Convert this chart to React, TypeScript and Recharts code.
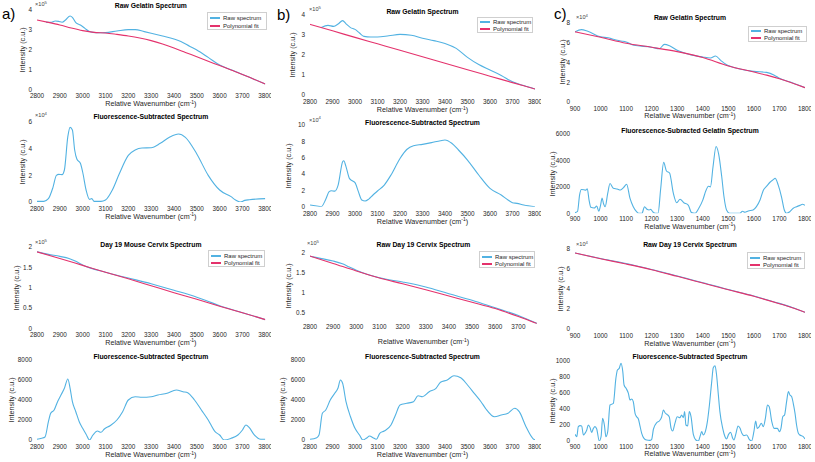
import React from 'react';
import { LineChart, Line, XAxis, YAxis } from 'recharts';

const FONT = '"Liberation Sans", Arial, Helvetica, sans-serif';
const BLUE = '#52b2e2';
const PINK = '#e4326c';
const INK = '#1e1e1e';

// ---------- a) ----------
const a1RawX = [2840,2860,2880,2895,2910,2925,2945,2955,2970,2990,3010,3030,3045,3070,3100,3150,3200,3230,3270,3300,3350,3400,3430,3470,3500,3550,3600,3650,3700,3750,3800];
const a1RawY = [3.38,3.38,3.45,3.43,3.39,3.5,3.7,3.63,3.37,3.25,3.08,2.92,2.88,2.86,2.87,2.95,3.02,3.02,2.92,2.84,2.7,2.55,2.43,2.18,2.0,1.63,1.25,1.01,0.78,0.54,0.3];
const a1FitX = [2800,2850,2900,2950,3000,3050,3100,3150,3200,3250,3300,3350,3400,3450,3500,3550,3600,3650,3700,3750,3800];
const a1FitY = [3.5,3.38,3.25,3.1,2.97,2.88,2.85,2.78,2.7,2.6,2.47,2.3,2.1,1.88,1.66,1.44,1.22,1.0,0.78,0.54,0.3];

const a2X = [2800,2830,2850,2870,2885,2895,2910,2920,2935,2945,2955,2965,2975,2990,3000,3015,3030,3040,3050,3080,3100,3130,3160,3200,3230,3260,3300,3340,3380,3420,3450,3500,3550,3600,3650,3670,3690,3710,3730,3800];
const a2Y = [0.05,0.05,0.25,1.1,2.0,2.07,2.05,2.4,4.9,5.6,5.4,3.9,3.2,2.9,2.25,0.9,0.2,0.25,0.05,0.05,0.15,0.9,2.1,3.5,3.9,4.05,4.07,4.4,4.85,5.1,4.85,3.6,2.0,0.9,0.4,0.15,0.0,0.12,0.17,0.25];

const a3RawX = [2800,2850,2900,2940,2970,3000,3100,3200,3300,3400,3500,3540,3600,3700,3800];
const a3RawY = [1.88,1.82,1.77,1.72,1.65,1.56,1.38,1.24,1.1,0.94,0.77,0.69,0.56,0.39,0.22];
const a3FitX = [2800,2900,3000,3100,3200,3300,3400,3500,3600,3700,3800];
const a3FitY = [1.88,1.72,1.55,1.38,1.22,1.05,0.88,0.72,0.55,0.39,0.22];

const a4X = [2800,2820,2835,2850,2860,2875,2890,2905,2920,2935,2945,2955,2970,2985,3000,3015,3030,3045,3065,3080,3095,3120,3150,3175,3200,3230,3260,3300,3330,3370,3410,3440,3460,3490,3520,3550,3580,3600,3620,3650,3680,3700,3715,3730,3750,3780,3800];
const a4Y = [70,170,300,1830,2670,3000,3830,4500,5170,6100,5170,3830,2830,1830,1170,570,0,500,900,770,1100,1430,2000,2830,4000,4330,4270,4330,4500,4670,5000,4830,4730,4000,3000,2000,830,500,0,170,500,1000,1500,1230,570,70,70];

// ---------- b) ----------
const b1RawX = [2850,2880,2905,2925,2945,2960,2980,3000,3020,3040,3070,3100,3150,3200,3250,3300,3350,3400,3450,3500,3550,3600,3650,3700,3750,3800];
const b1RawY = [3.38,3.48,3.43,3.55,3.72,3.56,3.37,3.28,3.1,2.93,2.9,2.9,2.96,3.03,2.99,2.84,2.72,2.58,2.33,1.88,1.52,1.25,0.98,0.66,0.47,0.3];
const b1FitX = [2800,2900,3000,3100,3200,3300,3400,3500,3600,3700,3800];
const b1FitY = [3.53,3.21,2.88,2.56,2.24,1.91,1.59,1.26,0.94,0.62,0.3];

const b2X = [2800,2830,2850,2870,2885,2895,2910,2925,2945,2950,2960,2975,2990,3000,3015,3030,3045,3060,3080,3100,3130,3160,3200,3230,3260,3300,3340,3380,3400,3430,3460,3500,3550,3600,3650,3680,3700,3720,3750,3800];
const b2Y = [0.2,0.08,0,0.9,1.84,1.96,1.9,2.65,5.5,5.63,4.9,3.47,3.14,2.94,1.84,0.82,0.7,0.9,1.43,1.92,2.65,3.88,5.9,7.0,7.47,7.63,7.84,8.08,8.16,7.76,6.94,5.71,3.88,2.24,1.43,0.82,0.49,0.41,0.2,0];

const b3RawX = [2800,2850,2900,2940,2970,3000,3100,3200,3300,3400,3500,3600,3700,3780];
const b3RawY = [1.92,1.86,1.8,1.73,1.65,1.57,1.38,1.275,1.15,0.98,0.82,0.63,0.44,0.24];
const b3FitX = [2800,2900,3000,3100,3200,3300,3400,3500,3600,3700,3780];
const b3FitY = [1.925,1.74,1.55,1.375,1.23,1.08,0.925,0.77,0.61,0.41,0.235];

const b4X = [2800,2830,2840,2855,2870,2890,2910,2925,2935,2945,2960,2980,3000,3020,3035,3050,3065,3080,3095,3110,3130,3160,3180,3200,3230,3260,3280,3300,3330,3360,3380,3410,3440,3470,3500,3530,3560,3580,3620,3650,3680,3710,3730,3760,3790,3800];
const b4Y = [70,230,500,2670,3000,4000,4670,5230,6000,5670,3830,2330,1170,500,0,170,400,230,70,670,900,1500,2500,3500,3670,3830,4430,4330,4830,5170,5770,6000,6430,6230,5500,4670,3830,3170,2330,2500,2670,3170,2830,1330,170,0];

// ---------- c) ----------
const c1RawX = [900,925,950,1000,1030,1050,1080,1100,1130,1200,1230,1250,1270,1300,1350,1400,1430,1450,1470,1490,1500,1600,1650,1680,1700,1750,1800];
const c1RawY = [7.1,7.33,7.16,6.6,6.5,6.35,6.18,6.08,5.74,5.55,5.4,5.84,5.7,5.24,4.8,4.56,4.46,4.66,4.22,3.82,3.7,3.1,3.0,2.72,2.4,1.95,1.45];
const c1FitX = [900,1000,1100,1200,1300,1400,1500,1600,1650,1700,1800];
const c1FitY = [7.1,6.55,5.95,5.54,5.1,4.5,3.65,3.04,2.72,2.36,1.45];

const c2X = [900,910,918,925,935,942,948,955,962,975,985,993,1000,1006,1012,1018,1028,1037,1050,1065,1078,1090,1102,1115,1128,1140,1150,1162,1172,1182,1190,1196,1205,1215,1225,1235,1247,1258,1270,1285,1298,1311,1326,1343,1356,1370,1385,1400,1412,1422,1430,1440,1452,1462,1474,1483,1493,1505,1545,1555,1565,1578,1597,1610,1624,1637,1650,1663,1676,1683,1695,1708,1719,1728,1741,1754,1767,1780,1790,1800];
const c2Y = [50,150,1400,1800,1780,1750,1850,1000,450,400,550,150,600,1150,700,500,1500,2250,1900,1840,1760,1950,2200,1150,500,150,0,0,500,300,250,300,100,0,0,1800,3850,3200,3050,1500,800,1060,800,620,50,0,400,1000,1700,2050,2000,3500,5050,4500,2800,1250,250,0,0,150,80,180,250,500,1000,1750,2050,2350,2550,2650,2150,1250,250,0,130,380,500,600,680,600];

const c3RawX = [900,1000,1100,1200,1300,1400,1450,1500,1600,1650,1700,1750,1800];
const c3RawY = [7.6,7.05,6.55,5.95,5.3,4.62,4.3,3.95,3.3,2.93,2.56,2.15,1.67];
const c3FitX = [900,1000,1100,1200,1300,1400,1500,1600,1700,1750,1800];
const c3FitY = [7.6,7.03,6.5,5.93,5.27,4.6,3.93,3.27,2.53,2.13,1.67];

const c4X = [900,907,913,920,926,933,939,946,952,959,965,972,978,985,995,1002,1008,1015,1021,1028,1037,1050,1060,1066,1073,1080,1087,1092,1100,1109,1115,1122,1128,1135,1141,1148,1154,1161,1170,1180,1193,1200,1207,1220,1230,1239,1246,1253,1261,1269,1276,1282,1291,1300,1311,1317,1324,1329,1334,1341,1347,1354,1363,1373,1383,1389,1396,1402,1409,1418,1426,1435,1441,1448,1454,1461,1467,1478,1487,1493,1501,1509,1517,1522,1530,1538,1546,1553,1561,1572,1582,1591,1600,1607,1613,1621,1629,1637,1645,1653,1660,1670,1679,1692,1700,1706,1713,1720,1728,1735,1741,1748,1754,1761,1767,1774,1780,1793,1800];
const c4Y = [83,54,180,192,188,75,96,138,200,167,108,158,180,150,0,54,283,200,54,117,450,471,783,888,908,971,867,700,658,596,513,525,492,346,304,275,192,96,33,13,8,21,150,230,250,300,388,350,330,300,158,125,221,304,292,325,292,367,200,188,367,304,83,13,0,54,117,75,108,242,450,742,917,940,825,575,367,158,54,25,83,110,33,13,96,188,158,96,67,75,21,0,117,250,158,180,221,180,283,450,429,242,158,158,117,158,304,325,492,617,575,554,471,346,200,96,75,54,25];

// ticks
const xTicksHigh = [2800,2900,3000,3100,3200,3300,3400,3500,3600,3700,3800];
const xTicksHighB3 = [2800,2900,3000,3100,3200,3300,3400,3500,3600,3700];
const xTicksLow = [900,1000,1100,1200,1300,1400,1500,1600,1700,1800];

type Pt = { x: number; y: number };
const zip = (xs: number[], ys: number[]): Pt[] => xs.map((x, i) => ({ x, y: ys[i] }));

interface PanelCfg {
  L: number; R: number; T: number; B: number;
  xDomain: [number, number]; xTicks: number[];
  yDomain: [number, number]; yTicks: number[];
  raw: Pt[]; fit?: Pt[];
  title: string; titleY: number;
  exp?: string; expX?: number; expY?: number;
  legend?: [number, number, number, number];
  yLabelX: number; xLabelY: number; xTickMargin: number;
}

const YW = 40, MT = 4, MR = 6, XH = 16;

function Panel(p: PanelCfg) {
  const w = p.R - p.L;
  const h = p.B - p.T;
  const tickStyle = { fontSize: 6.4, fill: INK, fontFamily: FONT };
  return (
    <>
      <div style={{ position: 'absolute', left: p.L - YW, top: p.T - MT }}>
        <LineChart width={YW + w + MR} height={MT + h + XH} margin={{ top: MT, right: MR, bottom: 0, left: 0 }}>
          <XAxis type="number" dataKey="x" domain={p.xDomain} ticks={p.xTicks} allowDataOverflow interval={0}
            axisLine={false} tickLine={false} tickSize={0} tickMargin={p.xTickMargin} height={XH} tick={tickStyle} />
          <YAxis type="number" dataKey="y" domain={p.yDomain} ticks={p.yTicks} allowDataOverflow interval={0}
            axisLine={false} tickLine={false} tickSize={0} tickMargin={5} width={YW} tick={tickStyle} />
          <Line data={p.raw} dataKey="y" type="monotone" stroke={BLUE} strokeWidth={1.1} dot={false} isAnimationActive={false} />
          {p.fit && (
            <Line data={p.fit} dataKey="y" type="monotone" stroke={PINK} strokeWidth={1.1} dot={false} isAnimationActive={false} />
          )}
        </LineChart>
      </div>
      <div style={{ position: 'absolute', left: (p.L + p.R) / 2, top: p.titleY, transform: 'translate(-50%,-50%)', fontSize: 6.8, fontWeight: 'bold', color: '#000', whiteSpace: 'nowrap', lineHeight: 1 }}>
        {p.title}
      </div>
      {p.exp && (
        <div style={{ position: 'absolute', left: p.expX, top: p.expY, transform: 'translateY(-50%)', fontSize: 5.6, color: '#444', whiteSpace: 'nowrap', lineHeight: 1 }}>
          ×10<span style={{ fontSize: 4.2, position: 'relative', top: -2.5 }}>{p.exp}</span>
        </div>
      )}
      <div style={{ position: 'absolute', left: p.yLabelX, top: (p.T + p.B) / 2, transform: 'translate(-50%,-50%) rotate(-90deg)', fontSize: 7.2, color: INK, whiteSpace: 'nowrap', lineHeight: 1 }}>
        Intensity (c.u.)
      </div>
      <div style={{ position: 'absolute', left: (p.L + p.R) / 2, top: p.xLabelY, transform: 'translate(-50%,-50%)', fontSize: 7.2, color: INK, whiteSpace: 'nowrap', lineHeight: 1 }}>
        Relative Wavenumber (cm<span style={{ fontSize: 5, position: 'relative', top: -2.5 }}>-1</span>)
      </div>
      {p.legend && (
        <div style={{ position: 'absolute', left: Math.round(p.legend[0]), top: Math.round(p.legend[1]), width: Math.round(p.legend[2]), height: Math.round(p.legend[3]), border: '1px solid #cfcfcf', background: '#fff', boxSizing: 'border-box', fontSize: 6, color: INK, lineHeight: 1 }}>
          {[['Raw spectrum', BLUE], ['Polynomial fit', PINK]].map(([t, c], i) => {
            const cy = Math.round(p.legend![3] * (i === 0 ? 0.27 : 0.7));
            return (
              <React.Fragment key={t}>
                <div style={{ position: 'absolute', left: 2, top: cy - 1, width: 10, height: 2, background: c }} />
                <div style={{ position: 'absolute', left: 15, top: cy, transform: 'translateY(-50%)', whiteSpace: 'nowrap' }}>{t}</div>
              </React.Fragment>
            );
          })}
        </div>
      )}
    </>
  );
}

const panels: PanelCfg[] = [
  // a)
  { L: 36.7, R: 265, T: 10, B: 90, xDomain: [2800, 3800], xTicks: xTicksHigh, yDomain: [0, 4], yTicks: [0,1,2,3,4],
    raw: zip(a1RawX, a1RawY), fit: zip(a1FitX, a1FitY), title: 'Raw Gelatin Spectrum', titleY: 6,
    exp: '5', expX: 35, expY: 5, legend: [207, 12, 60, 18], yLabelX: 23, xLabelY: 104, xTickMargin: 3.5 },
  { L: 36.7, R: 265, T: 121.7, B: 201.7, xDomain: [2800, 3800], xTicks: xTicksHigh, yDomain: [0, 6], yTicks: [0,2,4,6],
    raw: zip(a2X, a2Y), title: 'Fluorescence-Subtracted Spectrum', titleY: 117.3,
    exp: '4', expX: 35, expY: 116, yLabelX: 23, xLabelY: 216.8, xTickMargin: 4 },
  { L: 36.7, R: 265, T: 246.7, B: 328.3, xDomain: [2800, 3800], xTicks: xTicksHigh, yDomain: [0, 2], yTicks: [0,0.5,1,1.5,2],
    raw: zip(a3RawX, a3RawY), fit: zip(a3FitX, a3FitY), title: 'Day 19 Mouse Cervix Spectrum', titleY: 245,
    exp: '5', expX: 35, expY: 243, legend: [208, 250, 57, 17], yLabelX: 16.7, xLabelY: 342.5, xTickMargin: 4 },
  { L: 36.7, R: 265, T: 360, B: 440, xDomain: [2800, 3800], xTicks: xTicksHigh, yDomain: [0, 8000], yTicks: [0,2000,4000,6000,8000],
    raw: zip(a4X, a4Y), title: 'Fluorescence-Subtracted Spectrum', titleY: 356.7,
    yLabelX: 11.7, xLabelY: 455, xTickMargin: 4.5 },
  // b)
  { L: 310, R: 535, T: 15, B: 95, xDomain: [2800, 3800], xTicks: xTicksHigh, yDomain: [0, 4], yTicks: [0,1,2,3,4],
    raw: zip(b1RawX, b1RawY), fit: zip(b1FitX, b1FitY), title: 'Raw Gelatin Spectrum', titleY: 11.7,
    exp: '5', expX: 309, expY: 10, legend: [477, 17, 56, 16], yLabelX: 293, xLabelY: 110, xTickMargin: 4.5 },
  { L: 310, R: 535, T: 125, B: 206.7, xDomain: [2800, 3800], xTicks: xTicksHigh, yDomain: [0, 10], yTicks: [0,2,4,6,8,10],
    raw: zip(b2X, b2Y), title: 'Fluorescence-Subtracted Spectrum', titleY: 123.3,
    exp: '4', expX: 309, expY: 120.7, yLabelX: 289, xLabelY: 221.5, xTickMargin: 4.5 },
  { L: 310, R: 536.9, T: 248.7, B: 323.5, xDomain: [2800, 3780], xTicks: xTicksHighB3, yDomain: [0.23, 2.1], yTicks: [0.5,1,1.5,2],
    raw: zip(b3RawX, b3RawY), fit: zip(b3FitX, b3FitY), title: 'Raw Day 19 Cervix Spectrum', titleY: 245,
    exp: '5', expX: 307, expY: 244, legend: [479, 251, 56, 17], yLabelX: 289, xLabelY: 342, xTickMargin: 0.5 },
  { L: 310, R: 535, T: 360, B: 440, xDomain: [2800, 3800], xTicks: xTicksHigh, yDomain: [0, 8000], yTicks: [0,2000,4000,6000,8000],
    raw: zip(b4X, b4Y), title: 'Fluorescence-Subtracted Spectrum', titleY: 356.7,
    yLabelX: 283, xLabelY: 455, xTickMargin: 4.5 },
  // c)
  { L: 575, R: 805, T: 22.7, B: 101.7, xDomain: [900, 1800], xTicks: xTicksLow, yDomain: [0, 8], yTicks: [0,2,4,6,8],
    raw: zip(c1RawX, c1RawY), fit: zip(c1FitX, c1FitY), title: 'Raw Gelatin Spectrum', titleY: 18.3,
    exp: '4', expX: 576, expY: 18, legend: [748, 26, 59, 16], yLabelX: 562.5, xLabelY: 116, xTickMargin: 4 },
  { L: 575, R: 805, T: 134, B: 213.3, xDomain: [900, 1800], xTicks: xTicksLow, yDomain: [0, 6000], yTicks: [0,2000,4000,6000],
    raw: zip(c2X, c2Y), title: 'Fluorescence-Subracted Gelatin Spectrum', titleY: 130.7,
    yLabelX: 553, xLabelY: 226.6, xTickMargin: 3 },
  { L: 575, R: 805, T: 249.3, B: 329.3, xDomain: [900, 1800], xTicks: xTicksLow, yDomain: [0, 8], yTicks: [0,2,4,6,8],
    raw: zip(c3RawX, c3RawY), fit: zip(c3FitX, c3FitY), title: 'Raw Day 19 Cervix Spectrum', titleY: 245,
    exp: '4', expX: 576, expY: 245, legend: [747, 252, 58, 17], yLabelX: 561, xLabelY: 343.6, xTickMargin: 4 },
  { L: 575, R: 805, T: 361, B: 441, xDomain: [900, 1800], xTicks: xTicksLow, yDomain: [0, 1000], yTicks: [0,200,400,600,800,1000],
    raw: zip(c4X, c4Y), title: 'Fluorescence-Subtracted Spectrum', titleY: 356.7,
    yLabelX: 553, xLabelY: 454.3, xTickMargin: 3 },
];

export default function App() {
  return (
    <div style={{ position: 'absolute', left: 0, top: 0, width: 815, height: 462, background: '#fff', overflow: 'hidden', fontFamily: FONT }}>
      {panels.map((p, i) => <Panel key={i} {...p} />)}
      <div style={{ position: 'absolute', left: 2, top: 6, fontSize: 15, color: '#000', lineHeight: 1 }}>a)</div>
      <div style={{ position: 'absolute', left: 277, top: 7, fontSize: 15, color: '#000', lineHeight: 1 }}>b)</div>
      <div style={{ position: 'absolute', left: 554, top: 6, fontSize: 15, color: '#000', lineHeight: 1 }}>c)</div>
    </div>
  );
}
